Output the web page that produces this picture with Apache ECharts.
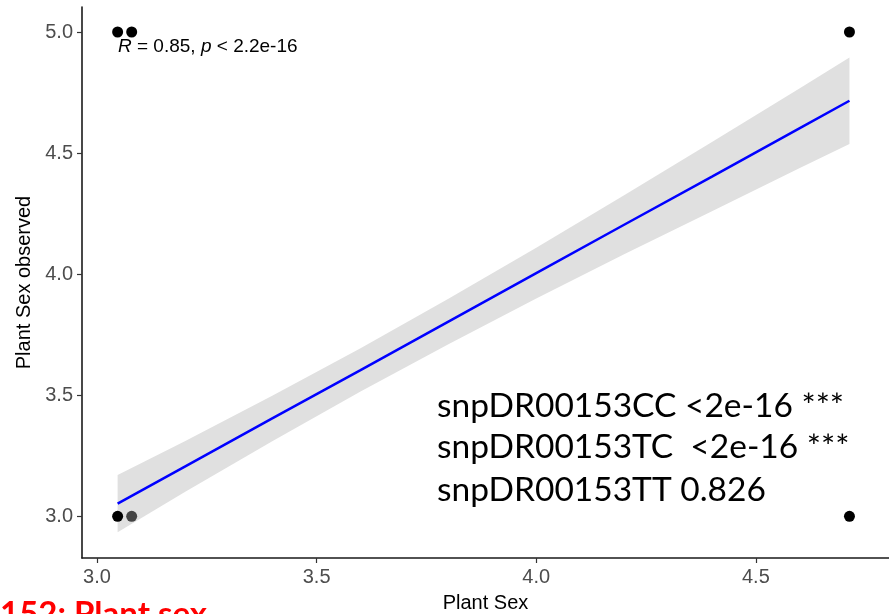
<!DOCTYPE html>
<html><head><meta charset="utf-8">
<script src="https://cdn.jsdelivr.net/npm/echarts@6/dist/echarts.min.js"></script>
<style>html,body{margin:0;padding:0;background:#fff}#c{width:889px;height:614px}</style>
</head><body><div id="c"></div>
<script>
// observed points
const pointX = [3.047, 3.079, 4.713, 3.047, 3.079, 4.713];
const pointY = [5.0, 5.0, 5.0, 3.0, 3.0, 3.0];
const pointColor = ['#000', '#000', '#000', '#000', '#444', '#000'];
// regression line and confidence band
const fitX = [3.047, 3.2, 3.4, 3.6, 3.8, 4.0, 4.2, 4.4, 4.6, 4.713];
const fitY = [3.052, 3.205, 3.405, 3.604, 3.804, 4.004, 4.204, 4.403, 4.603, 4.716];
const bandUpper = [3.170, 3.310, 3.499, 3.694, 3.898, 4.109, 4.326, 4.546, 4.768, 4.895];
const bandLower = [2.934, 3.100, 3.311, 3.515, 3.710, 3.899, 4.082, 4.260, 4.438, 4.537];
const xTicks = [3.0, 3.5, 4.0, 4.5];
const yTicks = [3.0, 3.5, 4.0, 4.5, 5.0];
const annotLines = ['snpDR00153CC <2e-16 ***', 'snpDR00153TC  <2e-16 ***', 'snpDR00153TT 0.826'];

const chart = echarts.init(document.getElementById('c'));
const axisCommon = {
  axisLine: {show: true, lineStyle: {color: '#1a1a1a', width: 1.6}},
  axisTick: {show: true, length: 5, lineStyle: {color: '#333', width: 1.2}},
  splitLine: {show: false},
  nameTextStyle: {fontFamily: 'Liberation Sans', fontSize: 20, color: '#000'}
};
chart.setOption({
  animation: false,
  backgroundColor: '#fff',
  grid: {left: 82, right: 0, top: 7, bottom: 56, containLabel: false, outerBoundsMode: 'none'},
  xAxis: Object.assign({}, axisCommon, {
    type: 'value', min: 2.9659, max: 4.803,
    name: 'Plant Sex', nameLocation: 'middle', nameGap: 35,
    axisTick: Object.assign({}, axisCommon.axisTick, {customValues: xTicks}),
    axisLabel: {customValues: xTicks, formatter: v => v.toFixed(1), color: '#4d4d4d', fontFamily: 'Liberation Sans', fontSize: 20, margin: 9}
  }),
  yAxis: Object.assign({}, axisCommon, {
    type: 'value', min: 2.8277, max: 5.1033,
    name: 'Plant Sex observed', nameLocation: 'middle', nameGap: 48,
    axisTick: Object.assign({}, axisCommon.axisTick, {customValues: yTicks}),
    axisLabel: {customValues: yTicks, formatter: v => v.toFixed(1), color: '#4d4d4d', fontFamily: 'Liberation Sans', fontSize: 20, margin: 9}
  }),
  series: [
    {
      type: 'custom', silent: true, z: 1,
      data: [0],
      renderItem: function (params, api) {
        const pts = [];
        for (let i = 0; i < fitX.length; i++) pts.push(api.coord([fitX[i], bandUpper[i]]));
        for (let i = fitX.length - 1; i >= 0; i--) pts.push(api.coord([fitX[i], bandLower[i]]));
        return {type: 'polygon', shape: {points: pts}, style: {fill: '#e0e0e0'}};
      }
    },
    {
      type: 'line', z: 2, symbol: 'none',
      data: fitX.map((x, i) => [x, fitY[i]]),
      lineStyle: {color: '#0000ff', width: 2.5}
    },
    {
      type: 'scatter', z: 3, symbolSize: 11,
      data: pointX.map((x, i) => ({value: [x, pointY[i]], itemStyle: {color: pointColor[i], opacity: 1}}))
    }
  ],
  graphic: [
    {
      type: 'text', left: 118, top: 37,
      style: {
        text: '{i|R} = 0.85, {i|p} < 2.2e-16',
        font: '19px "Liberation Sans"', fill: '#000',
        rich: {i: {fontStyle: 'italic', fontFamily: 'Liberation Sans', fontSize: 19}}
      }
    },
    {type: 'text', left: 437, top: 389, style: {text: annotLines[0], font: '33.5px Lato', fill: '#000'}},
    {type: 'text', left: 437, top: 430, style: {text: annotLines[1], font: '33.5px Lato', fill: '#000'}},
    {type: 'text', left: 437, top: 473, style: {text: annotLines[2], font: '33.5px Lato', fill: '#000'}},
    {type: 'text', left: 0, top: 598, style: {text: '152: Plant sex', font: 'bold 33px Lato', fill: '#ff0000'}}
  ]
});
</script></body></html>
